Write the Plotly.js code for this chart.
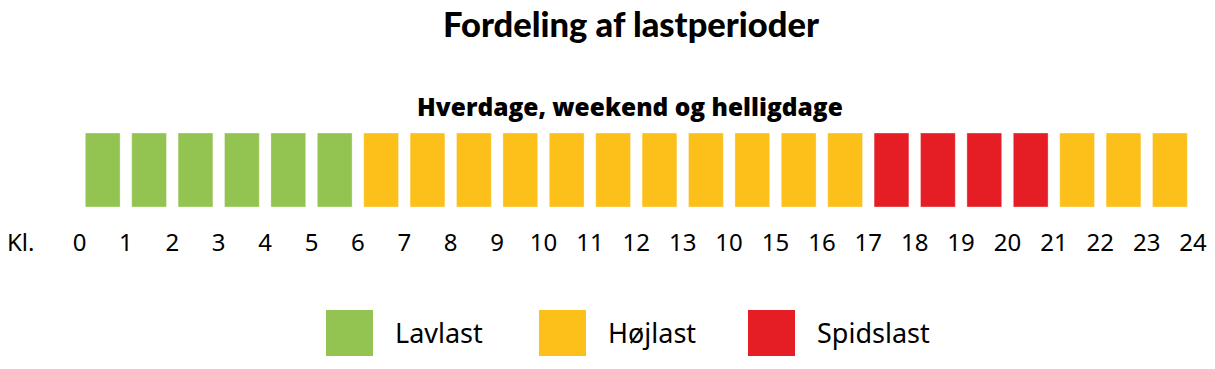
<!DOCTYPE html>
<html>
<head>
<meta charset="utf-8">
<script src="https://cdn.plot.ly/plotly-3.0.1.min.js"></script>
<style>html,body{margin:0;padding:0;background:#fff;}#chart{width:1215px;height:369px;}</style>
</head>
<body>
<div id="chart"></div>
<script>
// ---- data ----
const hours = [0,1,2,3,4,5,6,7,8,9,10,11,12,13,14,15,16,17,18,19,20,21,22,23];
const periodOfHour = ['Lavlast','Lavlast','Lavlast','Lavlast','Lavlast','Lavlast',
  'Højlast','Højlast','Højlast','Højlast','Højlast','Højlast','Højlast','Højlast','Højlast','Højlast','Højlast',
  'Spidslast','Spidslast','Spidslast','Spidslast',
  'Højlast','Højlast','Højlast'];
const categories = ['Lavlast','Højlast','Spidslast'];
const tickValues = [0,1,2,3,4,5,6,7,8,9,10,11,12,13,14,15,16,17,18,19,20,21,22,23,24];
const tickLabels = ['0','1','2','3','4','5','6','7','8','9','10','11','12','13','10','15','16','17','18','19','20','21','22','23','24'];
const titleText = 'Fordeling af lastperioder';
const subtitleText = 'Hverdage, weekend og helligdage';
const axisPrefix = 'Kl.';

// ---- styles ----
const colors = {'Lavlast':'#93C350','Højlast':'#FDC01A','Spidslast':'#E51E25'};
const W = 1215, H = 369;
const FONT = 'Noto Sans, sans-serif';

const traces = categories.map(c => {
  const xs = [];
  hours.forEach((h,i) => { if (periodOfHour[i] === c) xs.push(h + 0.5); });
  return {
    type:'bar', name:c, x:xs, y:xs.map(()=>1),
    width:0.75,
    marker:{color:colors[c], line:{color:'rgba(255,255,255,0.35)', width:1}},
    hoverinfo:'skip', showlegend:false
  };
});

// legend (drawn as shapes + annotations in paper space)
const legendX = [326, 539, 748];
const legendSq = 47, legendY0 = 310, legendY1 = 356;
const shapes = [], annotations = [];
categories.forEach((c,i) => {
  shapes.push({type:'rect', xref:'paper', yref:'paper',
    x0:legendX[i]/W, x1:(legendX[i]+legendSq)/W,
    y0:1-legendY1/H, y1:1-legendY0/H,
    fillcolor:colors[c], line:{width:0}});
  annotations.push({xref:'paper', yref:'paper', x:(legendX[i]+legendSq+20)/W, y:1-332/H,
    xanchor:'left', yanchor:'middle', text:c, showarrow:false,
    font:{family:FONT, size:27, color:'#000'}});
});
annotations.push({xref:'paper', yref:'paper', x:5/W, y:1-241/H, xanchor:'left', yanchor:'middle',
  text:axisPrefix, showarrow:false, font:{family:FONT, size:24, color:'#000'}});
annotations.push({xref:'paper', yref:'paper', x:630/W, y:1-106/H, xanchor:'center', yanchor:'middle',
  text:subtitleText, showarrow:false, font:{family:'Open Sans, sans-serif', weight:800, size:24.5, color:'#000'}});

const pitch = 46.4, origin = 79.5;
const r0 = -origin/pitch, r1 = r0 + W/pitch;

const layout = {
  width:W, height:H,
  margin:{l:0,r:0,t:0,b:0},
  paper_bgcolor:'#fff', plot_bgcolor:'#fff',
  title:{text:titleText, x:631/W, xanchor:'center', y:1-25/H, yanchor:'middle',
    font:{family:'Lato, sans-serif', weight:900, size:34.5, color:'#000'}},
  xaxis:{range:[r0,r1], tickmode:'array', tickvals:tickValues, ticktext:tickLabels,
    showgrid:false, zeroline:false, showline:false,
    ticks:'outside', ticklen:14, tickcolor:'rgba(0,0,0,0)',
    tickfont:{family:FONT, size:24, color:'#000'}, fixedrange:true},
  yaxis:{range:[0,1], domain:[1-207/H, 1-133/H], visible:false, fixedrange:true},
  barmode:'overlay',
  shapes:shapes, annotations:annotations, showlegend:false
};

Plotly.newPlot('chart', traces, layout, {displayModeBar:false, staticPlot:true});
</script>
</body>
</html>
